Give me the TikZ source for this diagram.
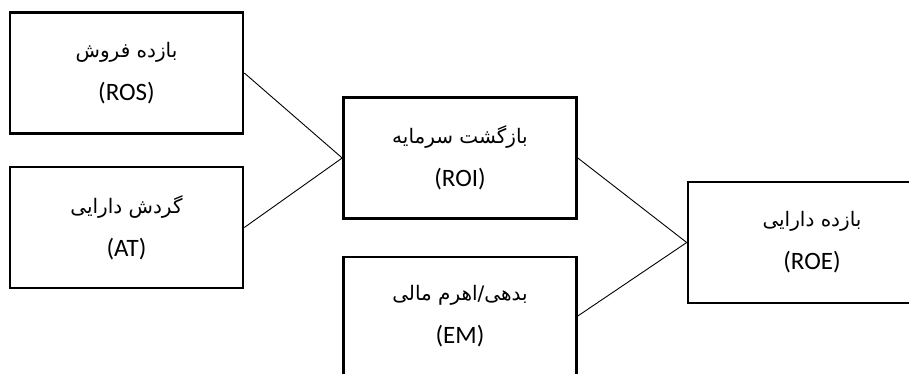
\documentclass[tikz,border=0pt]{standalone}
\usepackage{fontspec}
\setmainfont{Carlito}
\newfontfamily\farsi[Script=Arabic]{DejaVu Sans}
\TeXXeTstate=1

% one line of Persian text, set right to left
\newcommand\fa[1]{{\farsi\fontsize{20}{43}\selectfont\beginR #1\endR}}

\tikzset{
  box/.style={draw, line width=2.6pt, minimum width=233pt, minimum height=121pt,
              align=center, inner sep=0pt, font=\fontsize{25}{43}\selectfont},
  link/.style={line width=0.9pt},
}

\begin{document}
\begin{tikzpicture}[x=1pt, y=-1pt]
  \useasboundingbox (0,0) rectangle (909,374);
  \fill[white] (0,0) rectangle (909,374);
  \clip (0,0) rectangle (909,374);

  \node[box] (ros) at (126.5,73)    {\fa{بازده فروش}\\(ROS)};
  \node[box] (at)  at (126.5,227.5) {\fa{گردش دارایی}\\(AT)};
  \node[box] (roi) at (460,158)     {\fa{بازگشت سرمایه}\\(ROI)};
  \node[box, minimum height=118pt] (em) at (460,316) {\fa{بدهی/اهرم مالی}\\(EM)};
  \node[box, minimum width=248pt] (roe) at (812,242.5) {\fa{بازده دارایی}\\(ROE)};

  \draw[link] (ros.east) -- (roi.west);
  \draw[link] (at.east)  -- (roi.west);
  \draw[link] (roi.east) -- (roe.west);
  \draw[link] (em.east)  -- (roe.west);
\end{tikzpicture}
\end{document}
